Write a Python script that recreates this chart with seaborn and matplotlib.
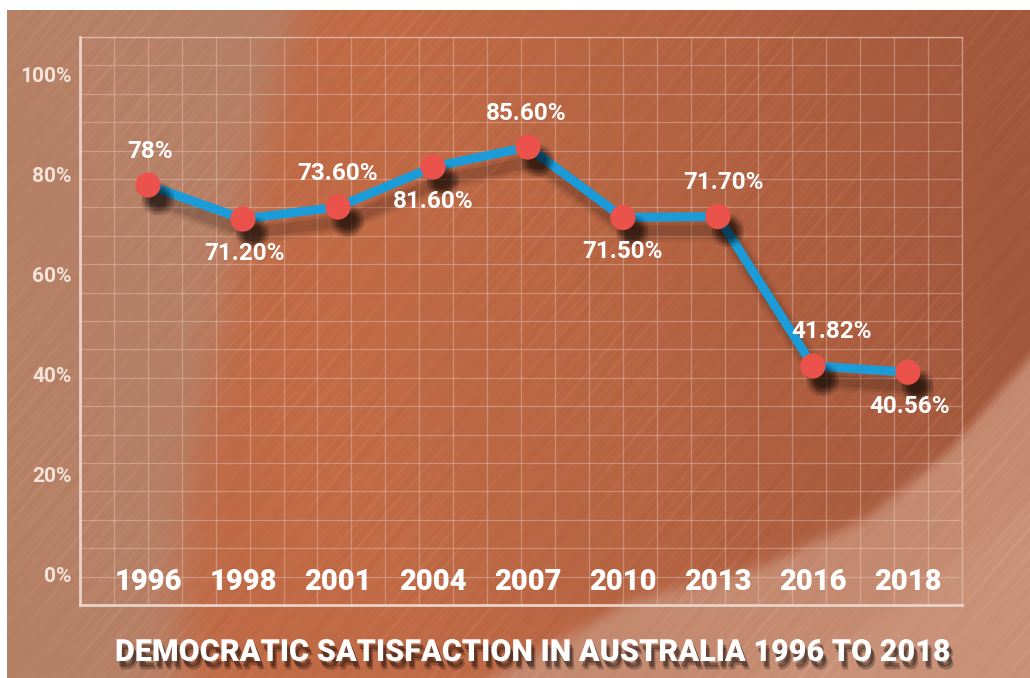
import numpy as np
import pandas as pd
import matplotlib
matplotlib.use("Agg")
import matplotlib.pyplot as plt
import matplotlib.patheffects as pe
import seaborn as sns

# ---------------- data ----------------
years = ["1996", "1998", "2001", "2004", "2007", "2010", "2013", "2016", "2018"]
satisfaction = [78.0, 71.2, 73.6, 81.6, 85.6, 71.5, 71.7, 41.82, 40.56]
value_labels = ["78%", "71.20%", "73.60%", "81.60%", "85.60%", "71.50%", "71.70%", "41.82%", "40.56%"]
y_ticks = [0, 20, 40, 60, 80, 100]
y_tick_labels = ["0%", "20%", "40%", "60%", "80%", "100%"]
title = "DEMOCRATIC SATISFACTION IN AUSTRALIA 1996 TO 2018"

# label placement (style): +1 above, -1 below; extra x shift in pixels
label_side = [1, -1, 1, -1, 1, -1, 1, 1, -1]
label_dx = [2, 2, 0, 0, -2, 0, 6, 19, 2]

df = pd.DataFrame({"pos": np.arange(len(years)), "value": satisfaction})

sns.set_style("white")
plt.rcParams["font.family"] = ["Roboto", "DejaVu Sans"]

W, H = 1030, 678
fig = plt.figure(figsize=(W / 100, H / 100), dpi=100)

# ---------------- background (decorative) ----------------
yy, xx = np.mgrid[0:H, 0:W].astype(float)
tan = np.array([182, 128, 102]) / 255
orange = np.array([192, 106, 70]) / 255
dark = np.array([163, 88, 60]) / 255
light = np.array([196, 138, 112]) / 255
lighter = np.array([204, 152, 128]) / 255

bx = 180 + 118 * np.clip(1 - yy / 600, 0, 1) ** 1.4
t_left = 1 / (1 + np.exp((xx - bx) / 12))
t_right = np.clip((xx - 380) / 620, 0, 1) ** 1.2
main = orange * (1 - t_right[..., None]) + dark * t_right[..., None]
img = tan * t_left[..., None] + main * (1 - t_left[..., None])

cx = [470, 560, 633, 760, 867, 950, 1030]
cy = [690, 640, 600, 567, 517, 450, 357]
yb = np.interp(xx, cx, cy)
t_sw = 1 / (1 + np.exp(-(yy - yb) / 4))
img = img * (1 - t_sw[..., None]) + light * t_sw[..., None]
cx2 = [720, 850, 960, 1030]
cy2 = [690, 640, 560, 500]
yb2 = np.interp(xx, cx2, cy2)
t_sw2 = 1 / (1 + np.exp(-(yy - yb2) / 6)) * 0.5
img = img * (1 - t_sw2[..., None]) + lighter * t_sw2[..., None]

s = xx + 0.85 * yy
mod = 0.5 + 0.5 * np.sin(2 * np.pi * (xx - 0.6 * yy) / 310.0)
tex = (0.014 * (np.sin(2 * np.pi * s / 23.0) ** 12) + 0.012 * (np.sin(2 * np.pi * s / 41.0 + 1.3) ** 16)) * (0.4 + mod) \
    - 0.008 * (np.sin(2 * np.pi * s / 67.0 + 0.4) ** 10)
img = np.clip(img + tex[..., None], 0, 1)
img[:10, :, :] = 1.0
img[:, :7, :] = 1.0

ax_bg = fig.add_axes([0, 0, 1, 1], zorder=0)
ax_bg.imshow(img, extent=[0, W, H, 0], aspect="auto", interpolation="bilinear")
ax_bg.set_xlim(0, W)
ax_bg.set_ylim(H, 0)
ax_bg.axis("off")

# ---------------- grid frame ----------------
left_px, right_px, top_px, bot_px = 80, 962, 37, 605
pos = [left_px / W, 1 - bot_px / H, (right_px - left_px) / W, (bot_px - top_px) / H]
ax_grid = fig.add_axes(pos, zorder=1)
ax_grid.set_facecolor("none")
ax_grid.set_xlim(0, 26)
ax_grid.set_ylim(0, 20)
ax_grid.set_xticks(np.arange(0, 27))
ax_grid.set_yticks(np.arange(0, 21))
ax_grid.set_xticklabels([])
ax_grid.set_yticklabels([])
ax_grid.tick_params(length=0)
ax_grid.grid(True, color="#f3d9cc", alpha=0.35, linewidth=0.9)
for side in ["left", "bottom"]:
    ax_grid.spines[side].set_color("#e9d3c8")
    ax_grid.spines[side].set_linewidth(2.0)
for side in ["top", "right"]:
    ax_grid.spines[side].set_color("#f0d5c8")
    ax_grid.spines[side].set_alpha(0.5)
    ax_grid.spines[side].set_linewidth(1.0)

# ---------------- data axes ----------------
ax = fig.add_axes(pos, zorder=2)
ax.set_facecolor("none")

line_shadow = []
for lw, a in [(16, 0.05), (12, 0.07), (8, 0.1)]:
    line_shadow.append(pe.SimpleLineShadow(offset=(6, -10), shadow_color="black", alpha=a, linewidth=lw))
line_shadow.append(pe.Normal())

sns.lineplot(data=df, x="pos", y="value", ax=ax, color="#1b9bd7", linewidth=6.5,
             solid_capstyle="round", solid_joinstyle="round", path_effects=line_shadow, zorder=3)

marker_shadow = []
for dx in (-2.5, 0, 2.5):
    for dy in (-2.5, 0, 2.5):
        marker_shadow.append(pe.SimplePatchShadow(offset=(7 + dx, -10 + dy), shadow_rgbFace="black", alpha=0.09))
marker_shadow.append(pe.Normal())
sns.scatterplot(data=df, x="pos", y="value", ax=ax, color="#ea524b", s=330,
                edgecolor="none", linewidth=0, zorder=4)
for coll in ax.collections:
    coll.set_path_effects(marker_shadow)

for i, (v, lab) in enumerate(zip(satisfaction, value_labels)):
    off = 34 if label_side[i] > 0 else -34
    ax.annotate(lab, xy=(i, v), xytext=(label_dx[i], off), textcoords="offset pixels",
                ha="center", va="center", fontsize=17.5, fontweight="bold", color="white", zorder=5)

ax.set_xlim(-0.716, 8.57)
ax.set_ylim(-6.0, 107.6)
ax.set_xticks(range(len(years)))
ax.set_xticklabels(years, fontsize=21, fontweight="heavy", color="white")
ax.tick_params(axis="x", length=0, pad=-27)
ax.set_yticks(y_ticks)
ax.set_yticklabels(y_tick_labels, fontsize=15, fontweight="bold", color="#f4e4da")
ax.tick_params(axis="y", length=0, pad=6)
ax.set_xlabel("")
ax.set_ylabel("")
for sp in ax.spines.values():
    sp.set_visible(False)

fig.text(532 / W, 1 - 652 / H, title, ha="center", va="center", fontsize=22, fontweight="black",
         color="white", zorder=10,
         path_effects=[pe.SimplePatchShadow(offset=(2, -4), shadow_rgbFace="black", alpha=0.35),
                       pe.SimplePatchShadow(offset=(3, -6), shadow_rgbFace="black", alpha=0.25),
                       pe.Normal()])

fig.savefig("out.png", dpi=100)
